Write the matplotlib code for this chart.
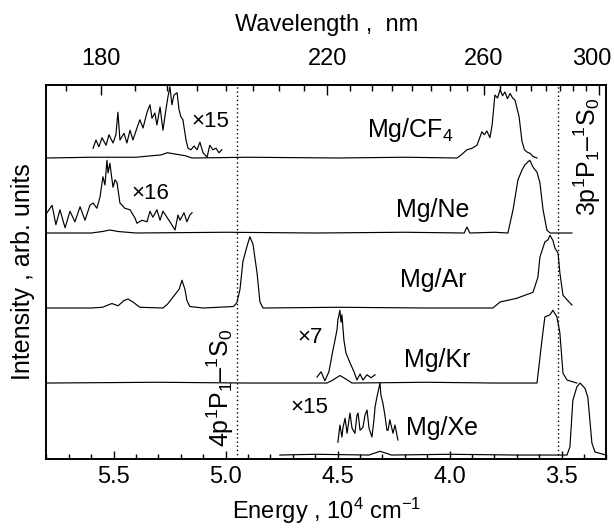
import matplotlib.pyplot as plt
import matplotlib.transforms as mtransforms
from matplotlib.ticker import FixedLocator, FixedFormatter, MultipleLocator, FormatStrFormatter
import numpy as np

plt.rcParams['font.family'] = ['Liberation Sans', 'DejaVu Sans']
plt.rcParams['mathtext.fontset'] = 'custom'
plt.rcParams['mathtext.rm'] = 'Liberation Sans'
plt.rcParams['mathtext.it'] = 'Liberation Sans:italic'
plt.rcParams['mathtext.bf'] = 'Liberation Sans:bold'

# desplazamiento vertical de cada espectro
desplaz = {'CF4': 3.96, 'Ne': 2.96, 'Ar': 1.96, 'Kr': 0.96, 'Xe': 0.0}

# ---- espectros principales (energia 10^4 cm^-1, intensidad) ----
cf4_e = [5.798, 5.60, 5.40, 5.33, 5.29, 5.26, 5.22, 5.18, 5.15, 4.90, 4.50, 4.20,
         3.967, 3.945, 3.923, 3.900, 3.878, 3.856, 3.845, 3.834, 3.820, 3.810,
         3.798, 3.786, 3.775, 3.764, 3.753, 3.742, 3.730, 3.719, 3.708, 3.690,
         3.677, 3.666, 3.655, 3.640, 3.628, 3.610]
cf4_i = [0, 0.01, 0.01, 0.03, 0.04, 0.07, 0.05, 0.03, 0.0, 0.01, 0.0, 0.01,
         0.0, 0.05, 0.11, 0.13, 0.17, 0.35, 0.31, 0.36, 0.27, 0.45,
         0.84, 0.80, 0.91, 0.83, 0.88, 0.79, 0.86, 0.80, 0.77, 0.55,
         0.22, 0.11, 0.08, 0.06, 0.02, 0.0]

ne_e = [5.798, 5.60, 5.55, 5.517, 5.48, 5.40, 5.00, 4.60, 4.20, 3.935, 3.923,
        3.910, 3.80, 3.740, 3.717, 3.695, 3.677, 3.664, 3.642, 3.628, 3.610,
        3.597, 3.583, 3.566, 3.552, 3.50, 3.454]
ne_i = [0, 0.0, 0.02, 0.04, 0.02, 0.0, 0.01, 0.0, 0.01, 0.0, 0.08,
        0.0, 0.01, 0.0, 0.31, 0.71, 0.84, 0.91, 0.97, 0.88, 0.81,
        0.67, 0.31, 0.04, 0.0, 0.0, 0.0]

ar_e = [5.798, 5.60, 5.55, 5.508, 5.48, 5.454, 5.436, 5.414, 5.383, 5.28,
        5.26, 5.208, 5.195, 5.182, 5.173, 5.160, 5.10, 4.965, 4.950, 4.936,
        4.923, 4.905, 4.892, 4.878, 4.860, 4.847, 4.833, 4.50, 4.10, 3.807,
        3.775, 3.700, 3.628, 3.606, 3.597, 3.575, 3.561, 3.552, 3.539, 3.530,
        3.516, 3.508, 3.494, 3.476, 3.454]
ar_i = [0, 0.0, 0.01, 0.06, 0.03, 0.10, 0.12, 0.08, 0.01, 0.0,
        0.05, 0.25, 0.37, 0.25, 0.10, 0.02, 0.0, 0.02, 0.07, 0.25,
        0.62, 0.82, 0.95, 0.85, 0.47, 0.08, 0.0, 0.01, 0.0, 0.0,
        0.08, 0.13, 0.21, 0.41, 0.68, 0.88, 0.91, 0.97, 0.90, 0.80,
        0.73, 0.47, 0.17, 0.11, 0.04]

kr_e = [5.798, 5.30, 4.90, 4.548, 4.521, 4.490, 4.467, 4.436, 4.10, 3.80,
        3.610, 3.588, 3.575, 3.552, 3.539, 3.521, 3.508, 3.494, 3.476, 3.432]
kr_i = [0, 0.01, 0.0, 0.0, 0.04, 0.10, 0.06, 0.0, 0.01, 0.0,
        0.0, 0.57, 0.88, 0.91, 0.97, 0.88, 0.67, 0.13, 0.04, 0.0]

xe_e = [4.758, 4.60, 4.36, 4.33, 4.311, 4.29, 4.26, 4.00, 3.70, 3.476,
        3.463, 3.450, 3.432, 3.418, 3.396, 3.383, 3.365, 3.351, 3.302]
xe_i = [0, 0.01, 0.0, 0.03, 0.05, 0.03, 0.0, 0.01, 0.0, 0.0,
        0.11, 0.73, 0.91, 0.96, 0.89, 0.77, 0.16, 0.04, 0.0]

# ---- tramos ampliados (x15, x16, x7, x15) ----
cf4z_e = [5.592, 5.579, 5.566, 5.552, 5.534, 5.521, 5.503, 5.490, 5.481, 5.472,
          5.454, 5.441, 5.427, 5.414, 5.396, 5.383, 5.369, 5.351, 5.338, 5.329,
          5.316, 5.307, 5.293, 5.280, 5.267, 5.258, 5.249, 5.240, 5.231, 5.217,
          5.208, 5.200, 5.191, 5.177, 5.168, 5.155, 5.141, 5.128, 5.115, 5.101,
          5.083, 5.071, 5.057, 5.043, 5.030, 5.017]
cf4z_i = [0.13, 0.24, 0.15, 0.27, 0.17, 0.31, 0.20, 0.31, 0.61, 0.24,
          0.33, 0.20, 0.37, 0.24, 0.40, 0.51, 0.40, 0.61, 0.71, 0.53,
          0.60, 0.44, 0.68, 0.37, 0.64, 0.81, 0.95, 0.71, 0.84, 0.87,
          0.64, 0.55, 0.51, 0.24, 0.13, 0.11, 0.16, 0.11, 0.21, 0.07,
          0.01, 0.17, 0.11, 0.13, 0.07, 0.11]

nez_e = [5.798, 5.775, 5.758, 5.740, 5.717, 5.695, 5.673, 5.650, 5.628, 5.606,
         5.592, 5.575, 5.561, 5.548, 5.539, 5.530, 5.525, 5.517, 5.503, 5.494,
         5.485, 5.472, 5.450, 5.427, 5.405, 5.396, 5.374, 5.351, 5.338, 5.325,
         5.307, 5.293, 5.280, 5.262, 5.249, 5.226, 5.213, 5.204, 5.186, 5.173,
         5.160, 5.150]
nez_i = [0.27, 0.37, 0.11, 0.31, 0.07, 0.29, 0.15, 0.35, 0.17, 0.37,
         0.40, 0.33, 0.48, 0.75, 0.64, 0.97, 0.80, 0.93, 0.61, 0.71,
         0.67, 0.40, 0.33, 0.31, 0.20, 0.13, 0.17, 0.15, 0.29, 0.21,
         0.31, 0.17, 0.29, 0.21, 0.15, 0.04, 0.24, 0.17, 0.27, 0.15,
         0.24, 0.27]

krz_e = [4.592, 4.574, 4.557, 4.539, 4.521, 4.512, 4.503, 4.499, 4.490, 4.485,
         4.481, 4.472, 4.463, 4.445, 4.427, 4.414, 4.400, 4.387, 4.369, 4.351,
         4.333]
krz_i = [0.08, 0.15, 0.03, 0.15, 0.44, 0.57, 0.71, 0.84, 0.97, 0.81,
         0.91, 0.57, 0.40, 0.27, 0.15, 0.04, 0.12, 0.04, 0.11, 0.07,
         0.11]

xez_e = [4.499, 4.490, 4.481, 4.476, 4.467, 4.458, 4.445, 4.436, 4.423, 4.414,
         4.409, 4.400, 4.387, 4.378, 4.369, 4.360, 4.347, 4.338, 4.333, 4.325,
         4.316, 4.311, 4.307, 4.298, 4.289, 4.280, 4.275, 4.267, 4.253, 4.244,
         4.231]
xez_i = [0.17, 0.40, 0.24, 0.37, 0.49, 0.29, 0.56, 0.36, 0.29, 0.53,
         0.56, 0.33, 0.37, 0.53, 0.60, 0.36, 0.24, 0.47, 0.64, 0.77,
         0.89, 0.96, 0.80, 0.69, 0.53, 0.33, 0.33, 0.47, 0.29, 0.40,
         0.20]

# transiciones atomicas del Mg
e_4p = 4.95
e_3p = 3.515

# escala superior en longitud de onda (nm)
lambda_ticks = [180, 220, 260, 300]
lambda_minor = list(range(175, 305, 5))

fig = plt.figure(figsize=(6.14, 5.29), dpi=100)
ax = fig.add_axes([0.0757, 0.1323, 0.912, 0.707])

principales = [('CF4', cf4_e, cf4_i), ('Ne', ne_e, ne_i), ('Ar', ar_e, ar_i),
               ('Kr', kr_e, kr_i), ('Xe', xe_e, xe_i)]
for nombre, e, i in principales:
    ax.plot(e, desplaz[nombre] + np.array(i), color='k', lw=0.85)

ampliados = [('CF4', cf4z_e, cf4z_i), ('Ne', nez_e, nez_i),
             ('Kr', krz_e, krz_i), ('Xe', xez_e, xez_i)]
for nombre, e, i in ampliados:
    ax.plot(e, desplaz[nombre] + np.array(i), color='k', lw=0.85)

for e0 in (e_4p, e_3p):
    ax.axvline(e0, color='k', lw=1.0, ls=(0, (1, 2)))

ax.set_xlim(5.8, 3.3)
ax.set_ylim(-0.053, 4.933)

ax.xaxis.set_major_locator(MultipleLocator(0.5))
ax.xaxis.set_minor_locator(MultipleLocator(0.1))
ax.xaxis.set_major_formatter(FormatStrFormatter('%.1f'))
ax.tick_params(axis='x', which='both', direction='in', labelsize=17, pad=5,
               top=False)
ax.tick_params(axis='x', which='major', length=6, width=1)
ax.tick_params(axis='x', which='minor', length=3.5, width=1)
ax.tick_params(axis='y', left=False, labelleft=False)
for s in ax.spines.values():
    s.set_linewidth(1.2)

# eje superior: mismas energias, marcas en 1000/lambda
ax2 = ax.twiny()
ax2.set_xlim(ax.get_xlim())
ax2.xaxis.set_major_locator(FixedLocator([1000.0 / l for l in lambda_ticks]))
ax2.xaxis.set_major_formatter(FixedFormatter([str(l) for l in lambda_ticks]))
ax2.xaxis.set_minor_locator(FixedLocator([1000.0 / l for l in lambda_minor]))
ax2.tick_params(which='both', direction='in', labelsize=17, pad=11)
ax2.tick_params(which='major', length=7, width=1)
ax2.tick_params(which='minor', length=4, width=1)
ax2.set_xlabel('Wavelength ,  nm', fontsize=17, labelpad=12)
for s in ax2.spines.values():
    s.set_linewidth(1.2)

ax.set_xlabel('Energy , 10$^4$ cm$^{-1}$', fontsize=17, labelpad=6)
ax.set_ylabel('Intensity , arb. units', fontsize=18, labelpad=8)

etiquetas = [('Mg/CF$_4$', 4.177, 4.33), ('Mg/Ne', 4.075, 3.27),
             ('Mg/Ar', 4.075, 2.33), ('Mg/Kr', 4.057, 1.27),
             ('Mg/Xe', 4.035, 0.36)]
for txt, x, y in etiquetas:
    ax.text(x, y, txt, fontsize=18, ha='center', va='center')

factores = [('×15', 5.070, 4.44), ('×16', 5.338, 3.49),
            ('×7', 4.624, 1.57), ('×15', 4.624, 0.64)]
for txt, x, y in factores:
    ax.text(x, y, txt, fontsize=16, ha='center', va='center')

ax.text(5.025, 0.89, '4p$^1$P$_1$–$^1$S$_0$', fontsize=18, rotation=90,
        ha='center', va='center')
ax.text(3.387, 3.97, '3p$^1$P$_1$–$^1$S$_0$', fontsize=18, rotation=90,
        ha='center', va='center')

# la etiqueta de 300 nm va algo a la izquierda, como en el original
fig.canvas.draw()
desv = mtransforms.ScaledTranslation(-0.07, 0, fig.dpi_scale_trans)
for tick in ax2.xaxis.get_major_ticks():
    if tick.label2.get_text() == '300':
        tick.label2.set_transform(tick.label2.get_transform() + desv)

fig.savefig('out.png', dpi=100)
